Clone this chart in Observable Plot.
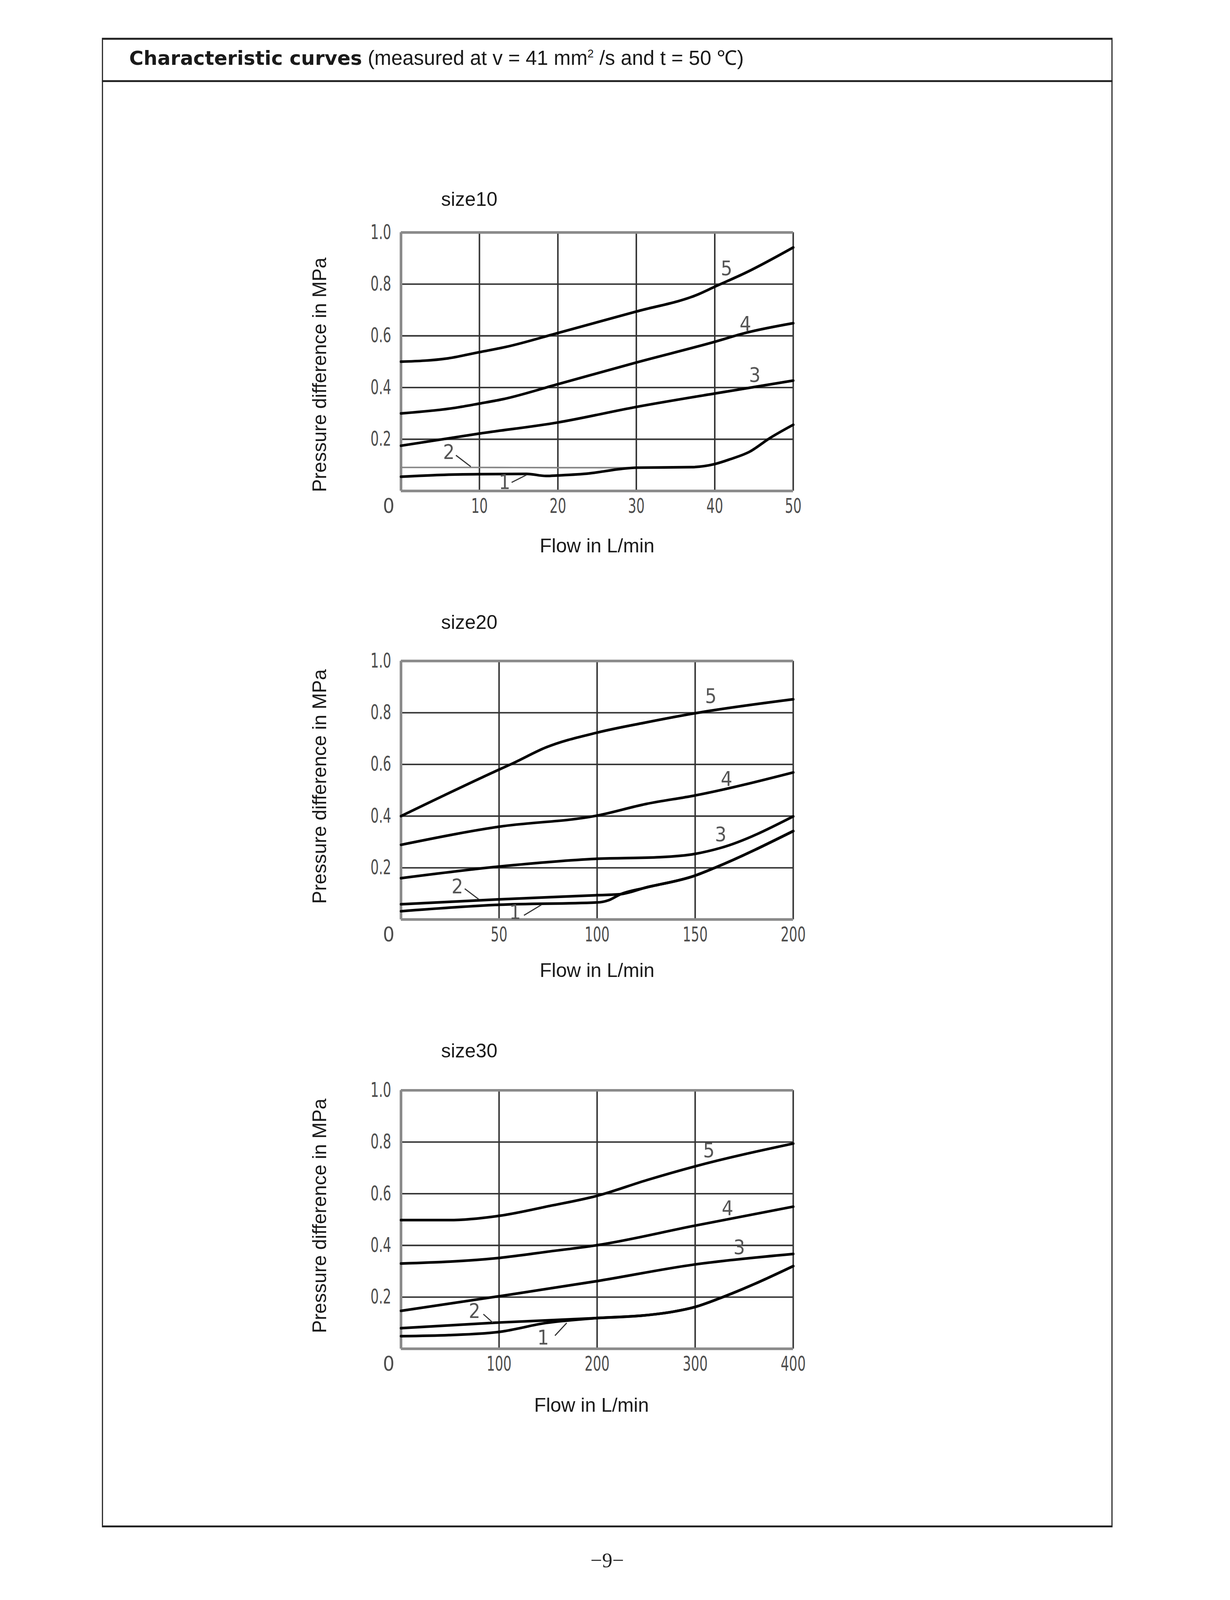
<!DOCTYPE html>
<html>
<head>
<meta charset="utf-8">
<script src="https://cdn.jsdelivr.net/npm/d3@7"></script>
<script src="https://cdn.jsdelivr.net/npm/@observablehq/plot@0.6"></script>
<style>
  html, body { margin: 0; padding: 0; background: #fff; overflow: hidden; }
  #page { position: relative; width: 3149px; height: 4271px; overflow: hidden; background: #fff; transform-origin: 0 0; }
  #box { position: absolute; left: 272px; top: 101px; width: 2698px; height: 3976px; box-sizing: border-box;
         border-top: 5px solid #222; border-bottom: 5px solid #222; border-left: 3px solid #222; border-right: 3px solid #222; }
  #hline { position: absolute; left: 272px; top: 214px; width: 2698px; height: 5px; background: #222; }
  #head { position: absolute; left: 345px; top: 119px; height: 70px; line-height: 70px; white-space: nowrap; color: #1a1a1a; }
  #head b { font-family: "DejaVu Sans", sans-serif; font-weight: bold; font-size: 52px; }
  #head span { font-family: "Liberation Sans", Arial, sans-serif; font-size: 54px; }
  #head sup { font-size: 30px; vertical-align: 0; position: relative; top: -20px; }
  #pageno { position: absolute; left: 1421px; width: 400px; top: 4125px; height: 80px; line-height: 80px; text-align: center;
            font-family: "Liberation Serif", "Times New Roman", serif; font-size: 55px; color: #222; }
  .chart { position: absolute; }
</style>
</head>
<body>
<div id="page">
  <div id="box"></div>
  <div id="hline"></div>
  <div id="head"><b>Characteristic curves</b><span> (measured at v = 41 mm<sup>2</sup> /s and t = 50 ℃)</span></div>
  <div id="pageno">−9−</div>
</div>
<script>
// ---------- texts ----------
const sizeTitles = ["size10", "size20", "size30"];
const xAxisLabel = "Flow in L/min";
const yAxisLabel = "Pressure difference in MPa";

// ---------- axes ----------
const yTicks = [0.2, 0.4, 0.6, 0.8, 1.0];
const yGrid = [0.2, 0.4, 0.6, 0.8];
const flowMax = [50, 200, 400];
const xTicks10 = [10, 20, 30, 40, 50];
const xTicks20 = [50, 100, 150, 200];
const xTicks30 = [100, 200, 300, 400];

// ---------- size10 curves: [flow L/min, pressure MPa] ----------
const s10_c1 = [[0,0.055],[5,0.062],[10,0.065],[16,0.066],[18.5,0.058],[20,0.06],[24,0.068],[28,0.085],[30,0.09],[37,0.092],[40,0.104],[42,0.123],[44.4,0.151],[47,0.204],[50,0.256]];
const s10_c2 = [[0,0.091],[9,0.091],[20,0.09],[30,0.09],[37,0.092],[40,0.104],[42,0.123],[44.4,0.151],[47,0.204],[50,0.256]];
const s10_c3 = [[0,0.175],[10,0.222],[20,0.265],[30,0.325],[40,0.377],[50,0.427]];
const s10_c4 = [[0,0.30],[7,0.322],[10,0.338],[13,0.355],[20,0.413],[30,0.497],[40,0.577],[44,0.612],[50,0.649]];
const s10_c5 = [[0,0.50],[6,0.513],[10,0.537],[13.5,0.558],[20,0.611],[30,0.694],[38,0.762],[40,0.79],[44,0.845],[50,0.942]];
const s10_labels = [[13.2,0.032,"1"],[6.1,0.148,"2"],[45.1,0.446,"3"],[43.9,0.644,"4"],[41.5,0.859,"5"]];
const s10_leaders = [[14.1,0.033,16.0,0.062],[7.0,0.138,8.9,0.094]];

// ---------- size20 curves ----------
const s20_c1 = [[0,0.032],[50,0.057],[100,0.066],[106,0.075],[112,0.098],[124,0.122],[150,0.17],[160,0.2],[200,0.342]];
const s20_c2 = [[0,0.059],[50,0.078],[100,0.094],[112,0.098],[124,0.122],[150,0.17],[160,0.2],[200,0.342]];
const s20_c3 = [[0,0.16],[50,0.205],[100,0.235],[132,0.241],[150,0.254],[163,0.277],[200,0.399]];
const s20_c4 = [[0,0.289],[50,0.359],[100,0.402],[125,0.447],[150,0.48],[200,0.569]];
const s20_c5 = [[0,0.40],[50,0.58],[57,0.604],[74,0.666],[100,0.723],[124,0.761],[150,0.798],[200,0.852]];
const s20_labels = [[58.2,0.026,"1"],[28.7,0.126,"2"],[163,0.327,"3"],[166,0.542,"4"],[158,0.862,"5"]];
const s20_leaders = [[62.7,0.016,71.6,0.057],[32.5,0.119,39.7,0.078]];

// ---------- size30 curves ----------
const s30_c1 = [[0,0.049],[49,0.053],[101,0.066],[148,0.1],[200,0.119],[247,0.129],[278,0.144],[299,0.161],[326,0.197],[360,0.25],[400,0.32]];
const s30_c2 = [[0,0.08],[101,0.102],[200,0.119],[247,0.129],[278,0.144],[299,0.161],[326,0.197],[360,0.25],[400,0.32]];
const s30_c3 = [[0,0.147],[101,0.204],[200,0.262],[299,0.326],[400,0.367]];
const s30_c4 = [[0,0.33],[101,0.352],[152,0.377],[200,0.401],[299,0.476],[400,0.55]];
const s30_c5 = [[0,0.498],[49,0.498],[101,0.515],[152,0.553],[200,0.592],[251,0.653],[299,0.705],[400,0.794]];
const s30_labels = [[145,0.042,"1"],[75,0.144,"2"],[345,0.391,"3"],[333,0.542,"4"],[314,0.765,"5"]];
const s30_leaders = [[157,0.051,169,0.1],[84,0.134,94,0.1]];

// ---------- layout (not data) ----------
const ML = 260, MR = 60, MT = 130, MB = 200, FW = 1047, FH = 690, FL = 1070;
const charts = [
  {title: sizeTitles[0], xmax: flowMax[0], xticks: xTicks10, curves: [s10_c1, s10_c2, s10_c3, s10_c4, s10_c5],
   labels: s10_labels, leaders: s10_leaders, top: 620, titleDy: -71, flowDy: 164, flowDx: 0, yLabDy: 35, c2: {stroke: "#858585", w: 4}},
  {title: sizeTitles[1], xmax: flowMax[1], xticks: xTicks20, curves: [s20_c1, s20_c2, s20_c3, s20_c4, s20_c5],
   labels: s20_labels, leaders: s20_leaders, top: 1764, titleDy: -86, flowDy: 153, flowDx: 0, yLabDy: -10, c2: {stroke: "#000", w: 7}},
  {title: sizeTitles[2], xmax: flowMax[2], xticks: xTicks30, curves: [s30_c1, s30_c2, s30_c3, s30_c4, s30_c5],
   labels: s30_labels, leaders: s30_leaders, top: 2910, titleDy: -88, flowDy: 168, flowDx: -15, yLabDy: -10, c2: {stroke: "#000", w: 7}}
];

const tickFont = '"Liberation Sans Narrow", "DejaVu Sans Condensed", "Liberation Sans", sans-serif';
const labelFont = '"Liberation Sans", Arial, sans-serif';

// fit the 3149×4271 page into whatever viewport the browser really gives
(function fitPage() {
  const vw = window.innerWidth || 3149, vh = window.innerHeight || 4271;
  const s = Math.min(1, vw / 3149, vh / 4271);
  if (s < 0.999) document.getElementById("page").style.transform = `scale(${s})`;
})();

function makeChart(cfg) {
  const rows = [];
  cfg.curves.forEach((pts, i) => pts.forEach(([f, p]) => rows.push({curve: i + 1, flow: f, p})));
  const c2rows = rows.filter(d => d.curve === 2);
  const otherRows = rows.filter(d => d.curve !== 2);
  const labels = cfg.labels.map(([f, p, t]) => ({flow: f, p, t}));
  const leaders = cfg.leaders.map(([f1, p1, f2, p2]) => ({f1, p1, f2, p2}));

  const svg = Plot.plot({
    width: ML + FW + MR, height: MT + FH + MB,
    marginLeft: ML, marginRight: MR, marginTop: MT, marginBottom: MB,
    style: {fontFamily: tickFont, fontSize: "54px", color: "#4d4d4d", background: "transparent", overflow: "visible"},
    x: {domain: [0, cfg.xmax], ticks: cfg.xticks, tickSize: 0, tickPadding: 20, label: null},
    y: {domain: [0, 1], ticks: yTicks, tickSize: 0, tickPadding: 26, tickFormat: d3.format(".1f"), label: null},
    marks: [
      Plot.ruleY(yGrid, {stroke: "#333", strokeWidth: 4}),
      Plot.ruleX(cfg.xticks, {stroke: "#333", strokeWidth: 4}),
      Plot.ruleY([0, 1], {stroke: "#8a8a8a", strokeWidth: 7}),
      Plot.ruleX([0], {stroke: "#8a8a8a", strokeWidth: 7}),
      Plot.line(c2rows, {x: "flow", y: "p", stroke: cfg.c2.stroke, strokeWidth: cfg.c2.w, curve: "monotone-x"}),
      Plot.line(otherRows, {x: "flow", y: "p", z: "curve", stroke: "#000", strokeWidth: 7, curve: "monotone-x"}),
      Plot.link(leaders, {x1: "f1", y1: "p1", x2: "f2", y2: "p2", stroke: "#333", strokeWidth: 3}),
      Plot.text(labels, {x: "flow", y: "p", text: "t", fill: "#555", fontSize: 54, fontFamily: tickFont, ariaLabel: "curve number"}),
      Plot.text(["0"], {x: () => 0, frameAnchor: "bottom", lineAnchor: "top", dy: 20, dx: -33, fill: "#4d4d4d",
        fontSize: 54, fontFamily: tickFont, ariaLabel: "zero label"}),
      Plot.text([cfg.title], {frameAnchor: "top-left", textAnchor: "start", lineAnchor: "bottom", dx: 107, dy: cfg.titleDy,
        fill: "#1a1a1a", fontSize: 52, fontFamily: labelFont}),
      Plot.text([xAxisLabel], {frameAnchor: "bottom", textAnchor: "middle", lineAnchor: "bottom", dx: cfg.flowDx, dy: cfg.flowDy,
        fill: "#1a1a1a", fontSize: 52, fontFamily: labelFont}),
      Plot.text([yAxisLabel], {frameAnchor: "left", textAnchor: "middle", lineAnchor: "middle", rotate: -90, dx: -216, dy: cfg.yLabDy,
        fill: "#1a1a1a", fontSize: 52, fontFamily: labelFont})
    ]
  });
  svg.classList.add("chart");
  svg.style.left = (FL - ML) + "px";
  svg.style.top = (cfg.top - MT) + "px";
  document.getElementById("page").appendChild(svg);

  // narrow the technical digits like the drawing's condensed lettering
  svg.querySelectorAll('[aria-label^="x-axis"] text, [aria-label^="y-axis"] text, [aria-label="curve number"] text, [aria-label="zero label"] text')
    .forEach(t => {
      const L = t.getComputedTextLength();
      if (L > 0) {
        t.setAttribute("textLength", (L * 0.72).toFixed(1));
        t.setAttribute("lengthAdjust", "spacingAndGlyphs");
      }
    });
}

charts.forEach(makeChart);
</script>
</body>
</html>
